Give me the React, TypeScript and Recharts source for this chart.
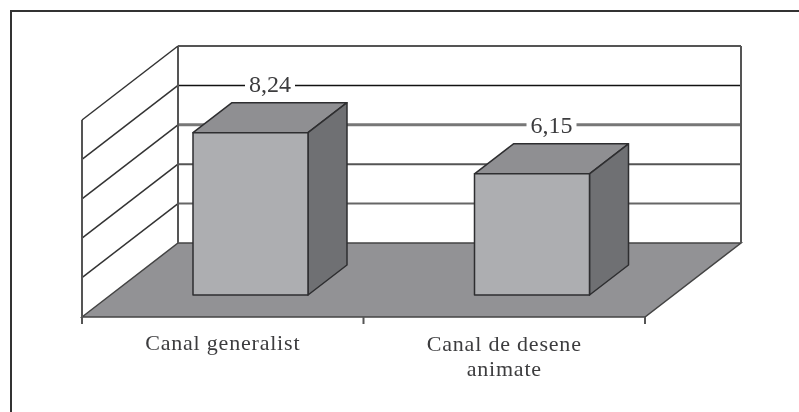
import React from 'react';
import { BarChart, Bar, XAxis, YAxis, LabelList } from 'recharts';

const categories = ['Canal generalist', 'Canal de desene animate'];
const categoryLines = [['Canal generalist'], ['Canal de desene', 'animate']];
const values = [8.24, 6.15];
const yTicks = [0, 2, 4, 6, 8, 10];

const data = categories.map((name, i) => ({ name, value: values[i] }));

const WIDTH = 799;
const HEIGHT = 412;
const PLOT_LEFT = 82;
const PLOT_RIGHT = 645;
const AXIS_HEIGHT = 95;
const BAND = (PLOT_RIGHT - PLOT_LEFT) / categories.length;

// floor depth, and how far the bars sit into it
const DEPTH_X = 96;
const DEPTH_Y = 74;
const BAR_SHIFT_X = 28;
const BAR_SHIFT_Y = 22;
const BOX_X = 39;
const BOX_Y = 30;

const FONT = '"Liberation Serif", serif';
const TEXT = '#3c3c3e';
const EDGE = '#2e2e30';

// scanned grid lines are not all the same weight
const gridStyle: Record<number, { stroke: string; width: number }> = {
  2: { stroke: '#666', width: 2 },
  4: { stroke: '#555', width: 2 },
  6: { stroke: '#777', width: 3 },
  8: { stroke: '#111', width: 1.5 },
  10: { stroke: '#555', width: 2 },
};

const WallTick = ({ y, payload }: any) => {
  const backY = y - DEPTH_Y;
  const backL = PLOT_LEFT + DEPTH_X;
  const backR = PLOT_RIGHT + DEPTH_X;
  if (payload.value === 0) {
    return (
      <polygon
        points={`${PLOT_LEFT},${y} ${backL},${backY} ${backR},${backY} ${PLOT_RIGHT},${y}`}
        fill="#929295"
        stroke="#444"
        strokeWidth={1.5}
      />
    );
  }
  const s = gridStyle[payload.value];
  return (
    <g>
      {payload.value === 10 && (
        <g stroke="#555" strokeWidth={2}>
          <line x1={backL} y1={backY} x2={backL} y2={backY + 197} />
          <line x1={backR} y1={backY} x2={backR} y2={backY + 197} />
          <line x1={PLOT_LEFT} y1={y} x2={PLOT_LEFT} y2={y + 197} />
        </g>
      )}
      <line x1={PLOT_LEFT} y1={y} x2={backL} y2={backY} stroke="#333" strokeWidth={1.5} />
      <line x1={backL} y1={backY} x2={backR} y2={backY} stroke={s.stroke} strokeWidth={s.width} />
    </g>
  );
};

const CategoryTick = ({ x, y, index }: any) => {
  // recharts hands over y below the axis by the tick size and margin
  const axisY = y - 8;
  return (
    <g>
      <line x1={x - BAND / 2} y1={axisY} x2={x - BAND / 2} y2={axisY + 7} stroke="#555" strokeWidth={2} />
      {index === categories.length - 1 && (
        <line x1={x + BAND / 2} y1={axisY} x2={x + BAND / 2} y2={axisY + 7} stroke="#555" strokeWidth={2} />
      )}
      <text textAnchor="middle" fontFamily={FONT} fontSize={22} letterSpacing={0.8} fill={TEXT}>
        {categoryLines[index].map((line, i) => (
          <tspan key={line} x={x} y={axisY + 33 + (index === 1 ? 1 : 0) + i * 25}>
            {line}
          </tspan>
        ))}
      </text>
    </g>
  );
};

const BoxBar = ({ x, y, width, height }: any) => {
  const l = x + BAR_SHIFT_X;
  const r = l + width;
  const t = y - BAR_SHIFT_Y;
  const b = t + height;
  return (
    <g stroke={EDGE} strokeWidth={1.5} strokeLinejoin="round">
      <polygon
        points={`${l},${t} ${l + BOX_X},${t - BOX_Y} ${r + BOX_X},${t - BOX_Y} ${r},${t}`}
        fill="#8f8f92"
      />
      <polygon
        points={`${r},${t} ${r + BOX_X},${t - BOX_Y} ${r + BOX_X},${b - BOX_Y} ${r},${b}`}
        fill="#6f7073"
      />
      <rect x={l} y={t} width={width} height={height} fill="#adaeb1" />
    </g>
  );
};

const ValueLabel = ({ x, y, width, value }: any) => {
  const cx = x + width / 2 + BAR_SHIFT_X + BOX_X / 2;
  const baseline = y - BAR_SHIFT_Y - BOX_Y - 11;
  return (
    <g>
      <rect x={cx - 25} y={baseline - 18} width={50} height={24} fill="#fff" />
      <text x={cx} y={baseline} textAnchor="middle" fontFamily={FONT} fontSize={24} fill={TEXT}>
        {String(value).replace('.', ',')}
      </text>
    </g>
  );
};

const layer: React.CSSProperties = { position: 'absolute', left: 0, top: 0 };

export default function App() {
  return (
    <div
      style={{
        position: 'absolute',
        left: 0,
        top: 0,
        width: WIDTH,
        height: HEIGHT,
        overflow: 'hidden',
        background: '#fff',
        filter: 'blur(0.6px)',
      }}
    >
      <div
        style={{
          position: 'absolute',
          left: 10,
          top: 10,
          right: 0,
          bottom: 0,
          borderTop: '2px solid #333',
          borderLeft: '2px solid #333',
        }}
      />
      {/* axes always paint over bars, so the walls and floor get their own chart underneath */}
      <div style={layer}>
        <BarChart
          width={WIDTH}
          height={HEIGHT}
          data={data}
          margin={{ top: 120, right: WIDTH - PLOT_RIGHT, bottom: AXIS_HEIGHT, left: PLOT_LEFT - 1 }}
        >
          <YAxis
            width={1}
            domain={[0, 10]}
            ticks={yTicks}
            interval={0}
            axisLine={false}
            tickLine={false}
            tick={<WallTick />}
          />
          <XAxis dataKey="name" hide />
          <Bar dataKey="value" isAnimationActive={false} fill="none" />
        </BarChart>
      </div>
      <div style={layer}>
        <BarChart
          width={WIDTH}
          height={HEIGHT}
          data={data}
          margin={{ top: 120, right: WIDTH - PLOT_RIGHT, bottom: 0, left: PLOT_LEFT }}
          barSize={115}
        >
          <YAxis hide domain={[0, 10]} />
          <XAxis
            dataKey="name"
            height={AXIS_HEIGHT}
            interval={0}
            tickLine={false}
            axisLine={false}
            tick={<CategoryTick />}
          />
          <Bar dataKey="value" isAnimationActive={false} shape={<BoxBar />}>
            <LabelList dataKey="value" content={<ValueLabel />} />
          </Bar>
        </BarChart>
      </div>
    </div>
  );
}
